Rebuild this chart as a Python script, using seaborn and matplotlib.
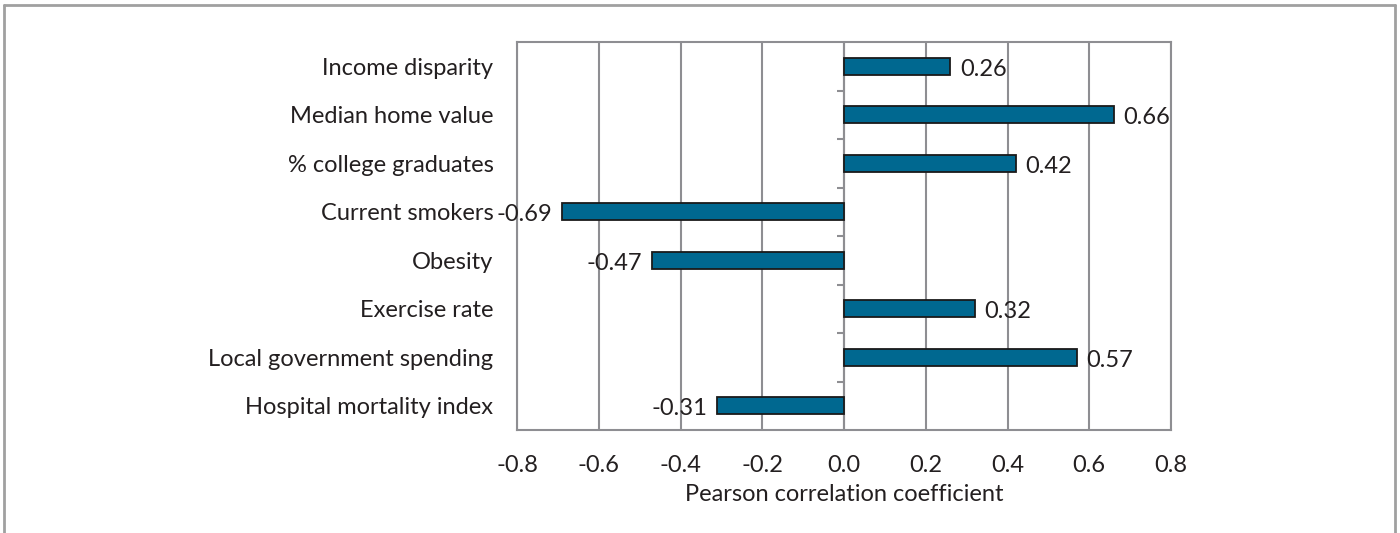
import matplotlib
matplotlib.use("Agg")
import matplotlib.pyplot as plt
import seaborn as sns
import pandas as pd
from matplotlib.lines import Line2D

categories = ["Income disparity", "Median home value", "% college graduates",
              "Current smokers", "Obesity", "Exercise rate",
              "Local government spending", "Hospital mortality index"]
values = [0.26, 0.66, 0.42, -0.69, -0.47, 0.32, 0.57, -0.31]
xticks = [-0.8, -0.6, -0.4, -0.2, 0.0, 0.2, 0.4, 0.6, 0.8]

df = pd.DataFrame({"factor": categories, "r": values})

sns.set_style("white")
plt.rcParams["font.family"] = ["Lato", "DejaVu Sans"]
TXT = "#231f20"
GRID = "#8e8e92"
BAR = "#006890"
FS = 17

fig = plt.figure(figsize=(14, 5.33), dpi=100)
ax = fig.add_axes([517/1400, 1-430/533, (1171-517)/1400, (430-42)/533])

sns.barplot(data=df, x="r", y="factor", orient="h", color=BAR,
            edgecolor="#1a1a1a", linewidth=1.3, width=0.35, ax=ax,
            saturation=1, zorder=3)

ax.set_xlim(-0.8, 0.8)
ax.set_ylim(len(categories) - 0.5, -0.5)
ax.set_xticks(xticks)
ax.set_xticklabels([f"{t:.1f}" for t in xticks], fontsize=FS, color=TXT)
ax.tick_params(axis="x", length=8, width=1.5, color=GRID, pad=10)
ax.tick_params(axis="y", length=0, pad=17, labelsize=FS, labelcolor=TXT)
ax.xaxis.grid(True, color=GRID, linewidth=1.5, zorder=0)
ax.set_axisbelow(True)
ax.set_xlabel("Pearson correlation coefficient", fontsize=FS, color=TXT, labelpad=6)
ax.set_ylabel("")
for s in ax.spines.values():
    s.set_visible(True)
    s.set_color(GRID)
    s.set_linewidth(1.5)

# zero axis line with category boundary ticks
ax.axvline(0, color=GRID, linewidth=1.5, zorder=2)
bounds = [i + 0.5 for i in range(len(categories) - 1)]
ax.hlines(bounds, -0.018, 0, color=GRID, linewidth=1.5, zorder=2)

for c in ax.containers:
    texts = ax.bar_label(c, labels=[f"{v:.2f}" for v in values], padding=7,
                         fontsize=FS, color=TXT, zorder=5)
    for t in texts:
        x0, y0 = t.xyann
        t.xyann = (x0, y0 - 2)

# outer frame
bc = "#a0a0a0"
fig.add_artist(Line2D([4/1400, 1395/1400], [1-5/533, 1-5/533], color=bc, lw=2))
fig.add_artist(Line2D([4/1400, 4/1400], [0, 1-5/533], color=bc, lw=2))
fig.add_artist(Line2D([1395/1400, 1395/1400], [0, 1-5/533], color=bc, lw=2))

fig.savefig("out.png", dpi=100)
